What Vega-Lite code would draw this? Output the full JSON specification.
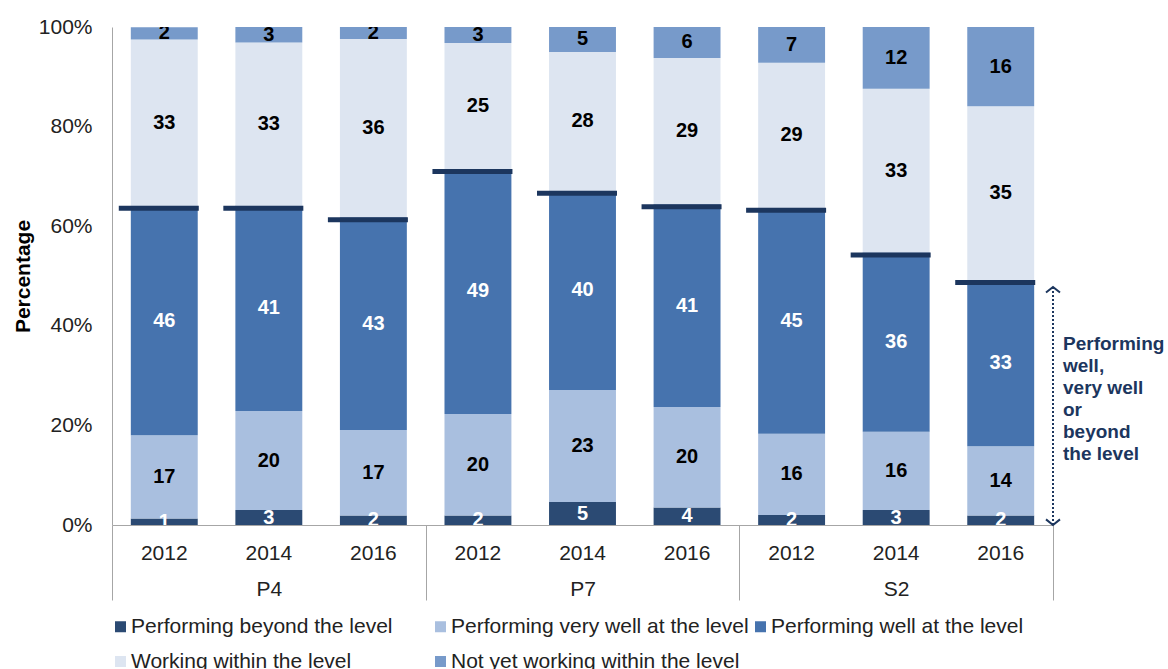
{
  "$schema": "https://vega.github.io/schema/vega-lite/v6.json",
  "width": 941,
  "height": 498,
  "autosize": {"type": "none"},
  "padding": {"left": 112, "top": 27, "right": 115, "bottom": 144},
  "background": "white",
  "config": {
    "view": {"stroke": null},
    "font": "Liberation Sans",
    "axis": {"labelFont": "Liberation Sans", "titleFont": "Liberation Sans"},
    "legend": {"labelFont": "Liberation Sans"}
  },
  "datasets": {
    "bars": [
      {"bar": "P4-2012", "Performing beyond the level": 1.3, "Performing very well at the level": 16.7, "Performing well at the level": 46.1, "Working within the level": 33.4, "Not yet working within the level": 2.45},
      {"bar": "P4-2014", "Performing beyond the level": 3.0, "Performing very well at the level": 19.9, "Performing well at the level": 41.2, "Working within the level": 32.8, "Not yet working within the level": 3.1},
      {"bar": "P4-2016", "Performing beyond the level": 1.9, "Performing very well at the level": 17.2, "Performing well at the level": 42.7, "Working within the level": 35.8, "Not yet working within the level": 2.4},
      {"bar": "P7-2012", "Performing beyond the level": 1.9, "Performing very well at the level": 20.4, "Performing well at the level": 49.2, "Working within the level": 25.3, "Not yet working within the level": 3.2},
      {"bar": "P7-2014", "Performing beyond the level": 4.6, "Performing very well at the level": 22.5, "Performing well at the level": 40.0, "Working within the level": 27.9, "Not yet working within the level": 5.0},
      {"bar": "P7-2016", "Performing beyond the level": 3.5, "Performing very well at the level": 20.2, "Performing well at the level": 40.7, "Working within the level": 29.4, "Not yet working within the level": 6.2},
      {"bar": "S2-2012", "Performing beyond the level": 2.0, "Performing very well at the level": 16.3, "Performing well at the level": 45.4, "Working within the level": 29.1, "Not yet working within the level": 7.2},
      {"bar": "S2-2014", "Performing beyond the level": 3.0, "Performing very well at the level": 15.7, "Performing well at the level": 36.0, "Working within the level": 32.9, "Not yet working within the level": 12.4},
      {"bar": "S2-2016", "Performing beyond the level": 1.9, "Performing very well at the level": 13.9, "Performing well at the level": 33.4, "Working within the level": 34.9, "Not yet working within the level": 15.9}
    ],
    "cats": [
      {"category": "Performing beyond the level", "rank": 1},
      {"category": "Performing very well at the level", "rank": 2},
      {"category": "Performing well at the level", "rank": 3},
      {"category": "Working within the level", "rank": 4},
      {"category": "Not yet working within the level", "rank": 5}
    ],
    "groups": [{"group": "P4"}, {"group": "P7"}, {"group": "S2"}],
    "arrow": [{"group": "S2", "lo": 0, "hi": 47.8, "textTop": 36.3, "note": "Performing\nwell,\nvery well\nor\nbeyond\nthe level"}]
  },
  "layer": [
    {
      "data": {"name": "bars"},
      "transform": [
        {"fold": ["Performing beyond the level", "Performing very well at the level", "Performing well at the level", "Working within the level", "Not yet working within the level"], "as": ["category", "value"]},
        {"lookup": "category", "from": {"data": {"name": "cats"}, "key": "category", "fields": ["rank"]}}
      ],
      "encoding": {
        "x": {
          "field": "bar", "type": "nominal", "sort": null,
          "scale": {"paddingInner": 0.36, "paddingOuter": 0.18},
          "axis": {
            "title": null, "labelAngle": 0, "labelFontSize": 21, "labelColor": "#222222",
            "labelExpr": "split(datum.label, '-')[1]",
            "ticks": false, "tickSize": 0, "labelPadding": 17,
            "domainColor": "#a6a6a6", "domainWidth": 1, "grid": false
          }
        }
      },
      "layer": [
        {
          "mark": {"type": "bar"},
          "encoding": {
            "y": {
              "field": "value", "type": "quantitative", "stack": "zero",
              "scale": {"domain": [0, 100]},
              "axis": {
                "title": "Percentage", "titleFontSize": 21, "titleFontWeight": "bold", "titleColor": "#000000", "titlePadding": 5,
                "values": [0, 20, 40, 60, 80, 100], "labelExpr": "datum.value + '%'",
                "labelFontSize": 21, "labelColor": "#222222", "ticks": false, "tickSize": 0, "labelPadding": 20,
                "domainColor": "#a6a6a6", "domainWidth": 1, "grid": false
              }
            },
            "color": {
              "field": "category", "type": "nominal",
              "sort": ["Performing beyond the level", "Performing very well at the level", "Performing well at the level", "Working within the level", "Not yet working within the level"],
              "scale": {
                "domain": ["Performing beyond the level", "Performing very well at the level", "Performing well at the level", "Working within the level", "Not yet working within the level"],
                "range": ["#2b4a73", "#a9bfdf", "#4673ae", "#dde5f1", "#779aca"]
              },
              "legend": {
                "title": null, "orient": "none", "legendX": -2, "legendY": 589,
                "direction": "horizontal", "columns": 3, "gridAlign": "all",
                "symbolType": "square", "symbolSize": 121, "symbolStrokeWidth": 0,
                "labelFontSize": 21, "labelColor": "#222222", "labelLimit": 400,
                "columnPadding": 1, "rowPadding": 13, "labelOffset": 0
              }
            },
            "order": {"field": "rank", "type": "quantitative", "sort": "ascending"}
          }
        },
        {
          "mark": {"type": "text", "clip": true, "font": "Liberation Sans", "fontWeight": "bold", "fontSize": 20, "baseline": "middle"},
          "encoding": {
            "y": {"field": "value", "type": "quantitative", "stack": "zero", "bandPosition": 0.5},
            "text": {"field": "value", "type": "quantitative", "format": ".0f"},
            "fill": {
              "field": "category", "type": "nominal",
              "scale": {
                "domain": ["Performing beyond the level", "Performing very well at the level", "Performing well at the level", "Working within the level", "Not yet working within the level"],
                "range": ["#ffffff", "#000000", "#ffffff", "#000000", "#000000"]
              },
              "legend": null
            },
            "order": {"field": "rank", "type": "quantitative", "sort": "ascending"}
          }
        },
        {
          "transform": [{"filter": {"field": "rank", "lte": 3}}],
          "mark": {"type": "tick", "thickness": 5, "size": 80, "xOffset": -5.5, "yOffset": 2.5, "color": "#1c365e", "opacity": 1},
          "encoding": {
            "y": {"aggregate": "sum", "field": "value", "type": "quantitative"}
          }
        }
      ]
    },
    {
      "encoding": {
        "x": {
          "field": "group", "type": "nominal", "sort": null,
          "scale": {"paddingInner": 0, "paddingOuter": 0},
          "axis": {
            "orient": "bottom", "title": null, "labelAngle": 0, "labelFontSize": 21, "labelColor": "#222222",
            "domain": false, "ticks": true, "tickBand": "extent", "tickSize": 75, "tickColor": "#a6a6a6", "tickWidth": 1,
            "labelPadding": -22, "grid": false
          }
        }
      },
      "layer": [
        {
          "data": {"name": "groups"},
          "mark": {"type": "text", "opacity": 0},
          "encoding": {"text": {"field": "group"}}
        },
        {
          "data": {"name": "arrow"},
          "mark": {"type": "rule", "strokeDash": [2, 2], "strokeWidth": 2, "color": "#1c365e"},
          "encoding": {
            "x": {"field": "group", "type": "nominal", "bandPosition": 1},
            "y": {"field": "lo", "type": "quantitative"},
            "y2": {"field": "hi"}
          }
        },
        {
          "data": {"name": "arrow"},
          "mark": {"type": "point", "shape": "M-1,0.8L0,0L1,0.8", "filled": false, "size": 196, "strokeWidth": 2, "color": "#1c365e", "opacity": 1},
          "encoding": {
            "x": {"field": "group", "type": "nominal", "bandPosition": 1},
            "y": {"field": "hi", "type": "quantitative"}
          }
        },
        {
          "data": {"name": "arrow"},
          "mark": {"type": "point", "shape": "M-1,-0.8L0,0L1,-0.8", "filled": false, "size": 196, "strokeWidth": 2, "color": "#1c365e", "opacity": 1},
          "encoding": {
            "x": {"field": "group", "type": "nominal", "bandPosition": 1},
            "y": {"field": "lo", "type": "quantitative"}
          }
        },
        {
          "data": {"name": "arrow"},
          "mark": {"type": "text", "align": "left", "baseline": "middle", "dx": 10, "lineBreak": "\n", "lineHeight": 22, "font": "Liberation Sans", "fontWeight": "bold", "fontSize": 19, "color": "#1c365e"},
          "encoding": {
            "x": {"field": "group", "type": "nominal", "bandPosition": 1},
            "y": {"field": "textTop", "type": "quantitative"},
            "text": {"field": "note"}
          }
        }
      ]
    }
  ],
  "resolve": {"scale": {"x": "independent"}}
}
